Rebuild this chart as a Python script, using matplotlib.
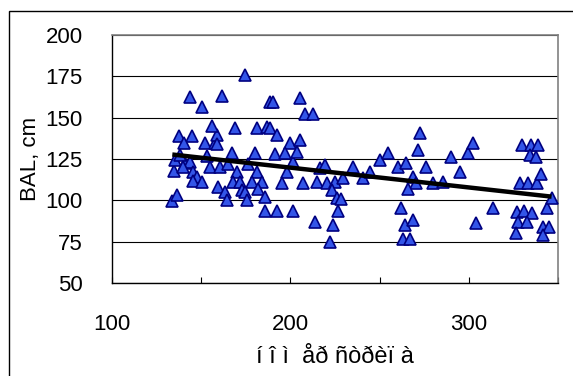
#!/usr/bin/env python3
"""Scatter of BAL (cm) with a linear trend line, Excel-style."""
import matplotlib
matplotlib.use("Agg")
import matplotlib.pyplot as plt
import numpy as np
from matplotlib.patches import Rectangle

plt.rcParams["font.family"] = ["Liberation Sans", "DejaVu Sans"]

# values
x_vals = [
    133.8, 136.6, 134.7, 135.3, 140.9, 143.7, 138.0, 140.0,
    137.7, 145.0, 140.2, 152.0, 157.7, 158.7, 155.9,
    143.7, 150.6, 161.8,
    153.0, 145.6, 147.5, 145.6, 150.3, 155.0, 159.6, 160.5,
    174.5, 188.5, 190.0,
    168.9, 181.0, 186.7, 188.5, 192.3, 199.8, 158.7,
    167.1, 180.1, 191.3, 197.0, 201.6,
    165.2, 176.4, 197.9, 169.9, 181.1,
    168.0, 171.7, 178.3, 183.9, 195.1,
    163.3, 172.7, 174.5, 182.0,
    164.3, 175.5, 185.7,
    185.7, 192.3, 201.6,
    205.4, 208.2, 212.5, 205.4, 203.9, 207.0,
    216.6, 219.4, 214.7, 220.7, 225.0, 229.6, 234.9, 240.5,
    223.1, 225.9, 228.2,
    226.8, 213.8, 223.7, 222.2, 244.6,
    250.2, 254.8, 260.1, 264.8, 271.3, 272.6, 275.8,
    268.9, 270.2, 266.0, 280.0, 285.6, 289.8, 295.0, 299.7, 302.5,
    261.8, 264.2, 268.9, 262.9, 267.0,
    303.8, 313.3,
    327.2, 330.9, 335.2, 327.7, 332.4, 326.4,
    328.7, 333.3, 338.0, 340.2,
    343.6, 346.4, 341.8, 345.1, 341.8,
    330.1, 334.6, 338.9, 334.5, 337.5,
]
y_vals = [
    99.6, 103.2, 117.7, 124.4, 122.8, 123.4, 127.4, 120.3,
    139.0, 139.0, 134.5, 134.5, 134.5, 139.5, 145.0,
    162.5, 156.6, 163.3,
    127.0, 117.3, 114.3, 111.7, 111.3, 120.3, 108.2, 120.3,
    175.8, 159.7, 159.7,
    143.6, 143.6, 144.5, 143.6, 139.5, 134.5, 134.0,
    128.4, 128.4, 127.8, 128.4, 123.4,
    121.8, 121.8, 117.3, 117.3, 117.0,
    111.3, 111.3, 111.3, 111.3, 110.3,
    105.2, 106.2, 105.2, 106.9,
    100.2, 100.2, 102.2,
    93.5, 93.5, 93.5,
    161.7, 152.0, 152.0, 136.5, 129.0, 110.3,
    119.4, 121.4, 111.3, 110.3, 111.3, 113.7, 120.3, 113.7,
    106.3, 101.2, 100.8,
    93.5, 86.7, 85.0, 75.0, 117.3,
    124.4, 128.4, 120.3, 122.8, 130.4, 140.9, 120.3,
    113.9, 110.3, 106.7, 110.3, 111.3, 126.4, 117.3, 128.4, 134.9,
    95.2, 85.1, 88.1, 76.4, 76.4,
    86.5, 95.2,
    93.1, 93.5, 92.5, 87.1, 87.1, 80.4,
    110.3, 110.3, 110.3, 115.9,
    95.2, 101.2, 83.7, 83.7, 79.0,
    133.5, 133.5, 133.5, 127.4, 126.5,
]
x_ticks = [100, 200, 300]
y_ticks = [50, 75, 100, 125, 150, 175, 200]
x_title = "í î ì  åð ñòðèï à"
y_title = "BAL, cm"

fig = plt.figure(figsize=(5.73, 3.76), dpi=100)
ax = fig.add_axes([112 / 573, 1 - 283 / 376, 446 / 573, 248 / 376])

x = np.array(x_vals)
y = np.array(y_vals)
ax.plot(x, y, linestyle="none", marker="^", markersize=8.5,
        markerfacecolor="#3355e8", markeredgecolor="#000080",
        markeredgewidth=1.2, zorder=3)

# linear trend
k, b = np.polyfit(x, y, 1)
xs = np.array([x.min(), x.max()])
ax.plot(xs, k * xs + b, color="black", lw=3.2, solid_capstyle="butt", zorder=4)

ax.set_xlim(100, 350)
ax.set_ylim(50, 200)
ax.set_yticks(y_ticks)
ax.set_xticks(x_ticks)
ax.set_xticks([150, 250, 350], minor=True)
ax.tick_params(axis="x", which="both", direction="in", length=4, width=0.8,
               labelsize=16, pad=22)
ax.tick_params(axis="y", length=0, labelsize=16, pad=21)
ax.yaxis.grid(True, color="black", lw=0.8)
ax.set_axisbelow(True)

for side in ("top", "right"):
    ax.spines[side].set_color("#808080")
    ax.spines[side].set_linewidth(1.2)
for side in ("left", "bottom"):
    ax.spines[side].set_color("black")
    ax.spines[side].set_linewidth(1.0)

ax.set_xlabel(x_title, fontsize=17, labelpad=8)
ax.set_ylabel(y_title, fontsize=16)
ax.yaxis.set_label_coords((41 - 112) / 446, 0.5)

# outer chart border
fig.patches.append(Rectangle((9 / 573, -0.02), 1.0, 1 - 11 / 376 + 0.02,
                             transform=fig.transFigure, fill=False,
                             edgecolor="black", lw=1.0))

fig.savefig("out.png", dpi=100)
